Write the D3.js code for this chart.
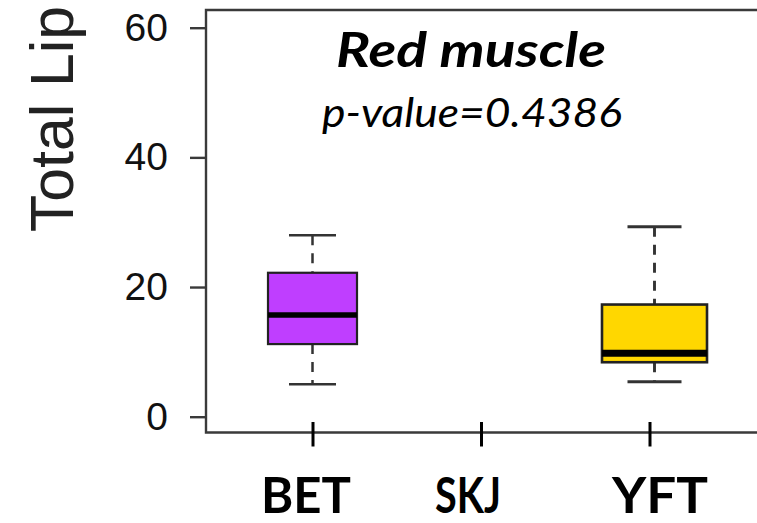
<!DOCTYPE html>
<html>
<head>
<meta charset="utf-8">
<script src="https://cdn.jsdelivr.net/npm/d3@7"></script>
<style>
html,body{margin:0;padding:0;background:#fff;}
svg{display:block;}
</style>
</head>
<body>
<svg id="chart" width="757" height="523"></svg>
<script>
const categories = ["BET", "SKJ", "YFT"];
const whiskerLow  = [5.0, null, 5.4];
const q1          = [11.2, null, 8.4];
const median      = [15.7, null, 9.8];
const q3          = [22.2, null, 17.3];
const whiskerHigh = [28.0, null, 29.3];
const boxColors   = ["#BF3EFF", null, "#FFD700"];
const yTicks = [0, 20, 40, 60];
const titleText = "Red muscle";
const pText = "p-value=0.4386";
const yLabel = "Total Lip";

// drawing styles (not data)
const boxStyle = {
  BET: {w: 89, cap: 47, med: 5.5, lw: 2.2},
  YFT: {w: 105, cap: 54, med: 7, lw: 2.6}
};
const labelOffset = {BET: 0, SKJ: -15, YFT: 0};
const labelWidth = {BET: 90, SKJ: 66, YFT: 96};

const svg = d3.select("#chart");
const frameLeft = 206, frameTop = 10, frameBottom = 432.5, W = 757;

const y = d3.scaleLinear().domain([0, 60]).range([416.7, 27.7]);
const xBox = d3.scalePoint().domain(categories).range([312.5, 654.5]);
const xTick = d3.scalePoint().domain(categories).range([313, 650]);
const xLab = d3.scalePoint().domain(categories).range([306, 660]);

// frame (open on right)
svg.append("path")
  .attr("d", `M${W},${frameTop}H${frameLeft}V${frameBottom}H${W}`)
  .attr("fill", "none").attr("stroke", "#3a3a3a").attr("stroke-width", 2.4);

// y axis
const yAxis = svg.append("g").attr("transform", `translate(${frameLeft},0)`)
  .call(d3.axisLeft(y).tickValues(yTicks).tickSize(16).tickPadding(22).tickFormat(d3.format("d")));
yAxis.select(".domain").remove();
yAxis.selectAll(".tick line").attr("stroke", "#3a3a3a").attr("stroke-width", 2.4);
yAxis.selectAll(".tick text")
  .attr("font-family", "'Liberation Sans', Arial, sans-serif")
  .attr("font-size", 39).attr("fill", "#111");

// y label
svg.append("text")
  .attr("transform", "translate(73,232) rotate(-90)")
  .attr("font-family", "'Liberation Sans', Arial, sans-serif")
  .attr("font-size", 61).attr("fill", "#222")
  .attr("text-anchor", "start")
  .attr("textLength", 226).attr("lengthAdjust", "spacingAndGlyphs")
  .text(yLabel);

// x ticks & labels
const xg = svg.append("g");
xg.selectAll("line").data(categories).join("line")
  .attr("x1", d => xTick(d)).attr("x2", d => xTick(d))
  .attr("y1", 422).attr("y2", 446.5)
  .attr("stroke", "#000").attr("stroke-width", 3);
xg.selectAll("text").data(categories).join("text")
  .attr("x", d => xLab(d) + labelOffset[d])
  .attr("y", 513)
  .attr("text-anchor", "middle")
  .attr("font-family", "Lato, 'Open Sans', sans-serif")
  .attr("font-weight", "bold")
  .attr("font-size", 50).attr("fill", "#000")
  .attr("textLength", d => labelWidth[d]).attr("lengthAdjust", "spacingAndGlyphs")
  .text(d => d);

// boxes
const data = categories.map((c, i) => ({c, lo: whiskerLow[i], q1: q1[i], med: median[i], q3: q3[i], hi: whiskerHigh[i], col: boxColors[i]}))
  .filter(d => d.med !== null);
const g = svg.append("g");
const bx = g.selectAll("g.box").data(data).join("g").attr("class", "box");
// whiskers dashed
bx.append("line").attr("x1", d => xBox(d.c)).attr("x2", d => xBox(d.c))
  .attr("y1", d => y(d.hi)).attr("y2", d => y(d.q3))
  .attr("stroke", "#333").attr("stroke-width", d => boxStyle[d.c].lw + 0.3).attr("stroke-dasharray", "10,8");
bx.append("line").attr("x1", d => xBox(d.c)).attr("x2", d => xBox(d.c))
  .attr("y1", d => y(d.q1)).attr("y2", d => y(d.lo))
  .attr("stroke", "#333").attr("stroke-width", d => boxStyle[d.c].lw + 0.3).attr("stroke-dasharray", "10,8");
// caps
bx.append("line").attr("x1", d => xBox(d.c) - boxStyle[d.c].cap/2).attr("x2", d => xBox(d.c) + boxStyle[d.c].cap/2)
  .attr("y1", d => y(d.hi)).attr("y2", d => y(d.hi))
  .attr("stroke", "#333").attr("stroke-width", d => boxStyle[d.c].lw + 0.3);
bx.append("line").attr("x1", d => xBox(d.c) - boxStyle[d.c].cap/2).attr("x2", d => xBox(d.c) + boxStyle[d.c].cap/2)
  .attr("y1", d => y(d.lo)).attr("y2", d => y(d.lo))
  .attr("stroke", "#333").attr("stroke-width", d => boxStyle[d.c].lw + 0.3);
// box
bx.append("rect").attr("x", d => xBox(d.c) - boxStyle[d.c].w/2).attr("width", d => boxStyle[d.c].w)
  .attr("y", d => y(d.q3)).attr("height", d => y(d.q1) - y(d.q3))
  .attr("fill", d => d.col).attr("stroke", "#222").attr("stroke-width", d => boxStyle[d.c].lw);
// median
bx.append("line").attr("x1", d => xBox(d.c) - boxStyle[d.c].w/2).attr("x2", d => xBox(d.c) + boxStyle[d.c].w/2)
  .attr("y1", d => y(d.med)).attr("y2", d => y(d.med))
  .attr("stroke", "#000").attr("stroke-width", d => boxStyle[d.c].med);

// title
svg.append("text").attr("x", 471).attr("y", 67).attr("text-anchor", "middle")
  .attr("font-family", "Lato, 'Open Sans', sans-serif")
  .attr("font-weight", "bold").attr("font-style", "italic")
  .attr("font-size", 47).attr("fill", "#000")
  .attr("textLength", 270).attr("lengthAdjust", "spacingAndGlyphs")
  .text(titleText);
svg.append("text").attr("x", 472).attr("y", 127).attr("text-anchor", "middle")
  .attr("font-family", "Lato, 'Open Sans', sans-serif")
  .attr("font-style", "italic")
  .attr("font-size", 40).attr("fill", "#000")
  .attr("textLength", 300).attr("lengthAdjust", "spacingAndGlyphs")
  .text(pText);
</script>
</body>
</html>
